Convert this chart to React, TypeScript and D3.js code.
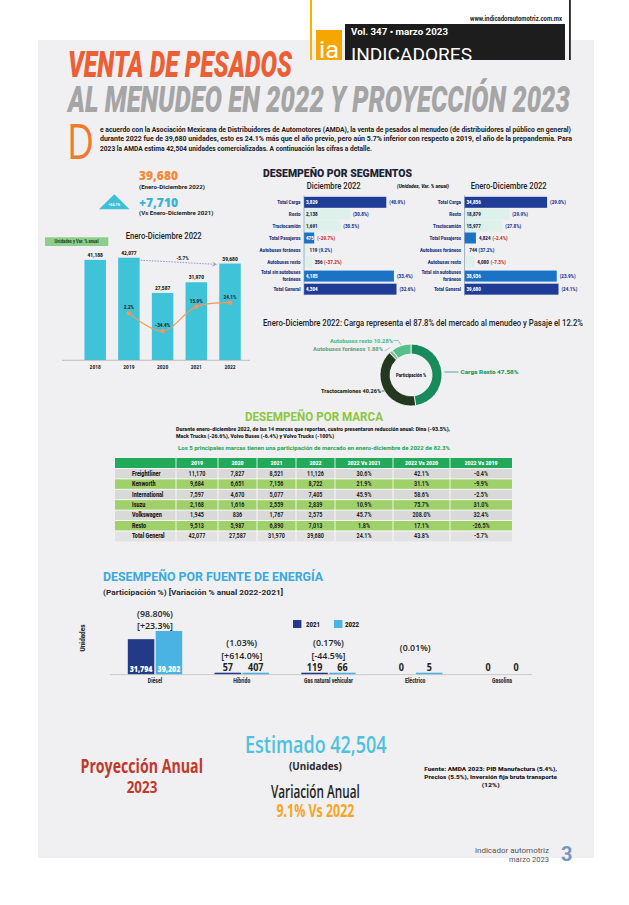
import React from 'react';
import * as d3 from 'd3';

const RB = 'Roboto, "Liberation Sans", Arial, sans-serif';
const OS = '"Open Sans", "Noto Sans", sans-serif';

// ---------- DATA ----------
const years = ['2018', '2019', '2020', '2021', '2022'];
const salesUnits = [41188, 42077, 27587, 31970, 39680];
const salesVar: (number | null)[] = [null, 2.2, -34.4, 15.9, 24.1];

const segmentLabels = ['Total Carga', 'Resto', 'Tractocamión', 'Total Pasajeros', 'Autobuses foráneos', 'Autobuses resto', 'Total sin autobuses foráneos', 'Total General'];
const segDecUnits = [3829, 2138, 1691, 475, 119, 356, 4185, 4304];
const segDecVar = [40.9, 30.8, 30.5, -29.7, 9.2, -37.2, 33.4, 32.6];
const segYearUnits = [34856, 18879, 15977, 4824, 744, 4080, 38936, 39680];
const segYearVar = [29.0, 29.9, 27.8, -2.4, 37.2, -7.3, 23.9, 24.1];

const shareLabels = ['Carga Resto', 'Tractocamiones', 'Autobuses foráneos', 'Autobuses resto'];
const shareValues = [47.58, 40.26, 1.88, 10.28];

const brandColumns = ['2019', '2020', '2021', '2022', '2022 Vs 2021', '2022 Vs 2020', '2022 Vs 2019'];
const brands = ['Freightliner', 'Kenworth', 'International', 'Isuzu', 'Volkswagen', 'Resto', 'Total General'];
const brand2019 = [11170, 9684, 7597, 2168, 1945, 9513, 42077];
const brand2020 = [7827, 6651, 4670, 1616, 836, 5987, 27587];
const brand2021 = [8521, 7156, 5077, 2559, 1767, 6890, 31970];
const brand2022 = [11126, 8722, 7405, 2839, 2575, 7013, 39680];
const brandVs2021 = [30.6, 21.9, 45.9, 10.9, 45.7, 1.8, 24.1];
const brandVs2020 = [42.1, 31.1, 58.6, 75.7, 208.0, 17.1, 43.8];
const brandVs2019 = [-0.4, -9.9, -2.5, 31.0, 32.4, -26.5, -5.7];

const energyTypes = ['Diésel', 'Híbrido', 'Gas natural vehicular', 'Eléctrico', 'Gasolina'];
const energySeries = ['2021', '2022'];
const energy2021 = [31794, 57, 119, 0, 0];
const energy2022 = [39202, 407, 66, 5, 0];
const energyShare: (number | null)[] = [98.8, 1.03, 0.17, 0.01, null];
const energyVar: (number | null)[] = [23.3, 614.0, -44.5, null, null];

// ---------- helpers ----------
const fmtN = d3.format(',');
const fmtP = (v: number) => `${v.toFixed(1)}%`;

function T(p: any) {
  const { x, y, s, c = '#222', w, fw = 700, ff = RB, a = 'start', sx, it, children, ls, rot } = p;
  const common: any = { fontSize: s, fill: c, fontWeight: fw, fontFamily: ff, textAnchor: a, fontStyle: it ? 'italic' : undefined, letterSpacing: ls };
  if (rot) return <text transform={`translate(${x},${y}) rotate(${rot})`} {...common}>{children}</text>;
  if (w) return <text x={x} y={y} textLength={w} lengthAdjust="spacingAndGlyphs" {...common}>{children}</text>;
  if (sx && sx !== 1) return <text transform={`translate(${x},${y}) scale(${sx},1)`} {...common}>{children}</text>;
  return <text x={x} y={y} {...common}>{children}</text>;
}

const segStyle: Record<string, string> = {
  'Total Carga': 'dark', 'Resto': 'light', 'Tractocamión': 'light', 'Total Pasajeros': 'mid',
  'Autobuses foráneos': 'light', 'Autobuses resto': 'light', 'Total sin autobuses foráneos': 'mid', 'Total General': 'dark',
};
const segFill: Record<string, string> = { dark: '#1f3c96', mid: '#1b73c6', light: '#ddf1ea' };
const rowSlot = [0, 1, 2, 3, 4, 5, 6.2, 7.3];

function SegChart({ x0, xMax, units, vars }: any) {
  const x = d3.scaleLinear().domain([0, d3.max(units) as number]).range([x0, xMax]);
  const rowY = (i: number) => 202.3 + rowSlot[i] * 11.9;
  const bh = 11;
  const cw = 2.1;
  const fs = 6.1, fsx = 0.74;
  return (
    <g>
      {segmentLabels.map((lab, i) => {
        const kind = segStyle[lab];
        const y = rowY(i);
        const end = x(units[i]);
        const wdt = end - x0;
        const vs = fmtN(units[i]);
        const tw = vs.length * cw;
        const inside = kind === 'light' ? wdt >= tw + 4 : wdt >= tw + 3;
        const vx = inside ? x0 + 2 : end + 3;
        const vc = inside && kind !== 'light' ? '#fff' : '#1c2550';
        const px = (inside ? end : vx + tw) + 3;
        const pc = vars[i] < 0 ? '#c8302c' : '#1f3c96';
        const lines = lab.length > 20 ? [lab.slice(0, lab.lastIndexOf(' ')), lab.slice(lab.lastIndexOf(' ') + 1)] : [lab];
        return (
          <g key={lab}>
            <rect x={x0} y={y - bh / 2} width={Math.max(wdt, 0.8)} height={bh} fill={segFill[kind]} />
            {lines.length === 1 ? (
              <T x={x0 - 3.5} y={y + 2} s={fs} sx={fsx} fw={900} a="end" c="#1d3a80">{lab}</T>
            ) : (
              <g>
                <T x={x0 - 3.5} y={y - 2} s={fs} sx={fsx} fw={900} a="end" c="#1d3a80">{lines[0]}</T>
                <T x={x0 - 3.5} y={y + 4.7} s={fs} sx={fsx} fw={900} a="end" c="#1d3a80">{lines[1]}</T>
              </g>
            )}
            <T x={vx} y={y + 2} s={fs} sx={fsx} fw={900} c={vc}>{vs}</T>
            <T x={px} y={y + 2} s={fs} sx={fsx} fw={900} c={pc}>{`(${fmtP(vars[i])})`}</T>
          </g>
        );
      })}
      <line x1={x0} x2={x0} y1={195.5} y2={295.5} stroke="#7a8aa8" strokeWidth={0.6} />
    </g>
  );
}

export default function App() {
  const W = 629, H = 905;

  // ---- annual sales chart ----
  const xYear = d3.scalePoint<string>().domain(years).range([95.2, 230]);
  const bw = 21.5;
  const yUnits = d3.scaleLinear().domain([0, 45000]).range([360, 250.6]);
  const yVar = d3.scaleLinear().domain([-40, 30]).range([333.7, 299.8]);
  const varPts = years
    .map((yr, i) => (salesVar[i] == null ? null : ([xYear(yr) as number, yVar(salesVar[i] as number)] as [number, number])))
    .filter(Boolean) as [number, number][];
  const varVals = salesVar.filter((d) => d != null) as number[];
  const varPath = d3.line().curve(d3.curveCatmullRom.alpha(0.5))(varPts) || '';
  const a0x = (xYear('2019') as number) + bw / 2 + 1;
  const a0y = yUnits(salesUnits[1]) + 2.5;
  const a1x = (xYear('2022') as number) - bw / 2 - 3;
  const a1y = yUnits(salesUnits[4]) + 0.8;
  const dropPct = ((salesUnits[4] / salesUnits[1]) - 1) * 100;

  // ---- donut ----
  const cx = 411, cy = 375, R = 31, r = 21;
  const pie = d3.pie<number>().sort(null).value((d) => d)(shareValues);
  const arc = d3.arc<d3.PieArcDatum<number>>().innerRadius(r).outerRadius(R);
  const donutColors = ['#188a5c', '#243820', '#8db89a', '#57bf8b'];
  const pointAt = (i: number, rad: number) => {
    const m = (pie[i].startAngle + pie[i].endAngle) / 2;
    return [cx + Math.sin(m) * rad, cy - Math.cos(m) * rad];
  };
  const edgeX = (dy: number, side: number) => cx + side * Math.sqrt(R * R - dy * dy);

  // ---- table ----
  const colEdges = [115, 176, 218, 257, 296, 335, 393, 450, 512];
  const headTop = 458, headH = 10.5, rowH = 10.4;
  const brandCols = [brand2019, brand2020, brand2021, brand2022, brandVs2021, brandVs2020, brandVs2019];
  const rowFill = (i: number) => (i === brands.length - 1 ? '#e2e2e2' : i % 2 === 0 ? '#d9d9d9' : '#9fd06a');

  // ---- energy ----
  const xE = d3.scalePoint<string>().domain(energyTypes).range([155, 502]);
  const yE = d3.scaleLinear().domain([0, 40000]).range([674.3, 630.1]);
  const ebw = 26.5;
  const eColors: Record<string, string> = { '2021': '#233a86', '2022': '#4ab3e3' };
  const eData = [energy2021, energy2022];

  return (
    <svg width={W} height={H} viewBox={`0 0 ${W} ${H}`} style={{ position: 'absolute', left: 0, top: 0, background: '#fff' }}>
      <defs>
        <marker id="arr" viewBox="0 0 10 10" refX="9" refY="5" markerWidth="6" markerHeight="6" orient="auto">
          <path d="M1,1 L9,5 L1,9" fill="none" stroke="#7b7bd0" strokeWidth={1.4} />
        </marker>
        <clipPath id="hdrclip"><rect x={345} y={24} width={220} height={36} /></clipPath>
      </defs>
      <rect x={0} y={0} width={W} height={H} fill="#fff" />
      <rect x={38} y={40} width={556} height={818} fill="#f0f0f2" />

      {/* header box */}
      <rect x={310} y={0} width={2} height={60} fill="#f4b400" />
      <rect x={569} y={0} width={1.8} height={60} fill="#222" />
      <T x={562} y={21} s={6.6} a="end" w={92} c="#222">www.indicadorautomotriz.com.mx</T>
      <rect x={345} y={24} width={220} height={36} fill="#1d1d1d" />
      <rect x={316} y={30} width={26} height={30} fill="#f5a600" />
      <T x={329} y={58} s={24} fw={400} a="middle" w={20} c="#fff">ia</T>
      <T x={351} y={35} s={8.5} w={97} c="#fff">Vol. 347 • marzo 2023</T>
      <g clipPath="url(#hdrclip)">
        <T x={351} y={61} s={18} fw={400} w={121} c="#fff">INDICADORES</T>
      </g>

      {/* titles */}
      <T x={68} y={77} s={37} fw={900} it w={224} c="#ec5f34">VENTA DE PESADOS</T>
      <T x={68} y={112} s={36} fw={900} it w={502} c="#a5a5a5">AL MENUDEO EN 2022 Y PROYECCIÓN 2023</T>

      {/* intro paragraph */}
      <T x={67} y={159} s={50} fw={400} w={27} c="#ee7a2e" ff={OS}>D</T>
      <T x={100} y={131.5} s={7} w={471} c="#222">e acuerdo con la Asociación Mexicana de Distribuidores de Automotores (AMDA), la venta de pesados al menudeo (de distribuidores al público en general)</T>
      <T x={100} y={141} s={7} w={472} c="#222">durante 2022 fue de 39,680 unidades, esto es 24.1% más que el año previo, pero aún 5.7% inferior con respecto a 2019, el año de la prepandemia. Para</T>
      <T x={100} y={150.5} s={7} w={272} c="#222">2023 la AMDA estima 42,504 unidades comercializadas. A continuación las cifras a detalle.</T>

      {/* KPI block */}
      <T x={139} y={180} s={11.5} w={39} c="#f08a3c" ff={OS} fw={800}>{fmtN(salesUnits[4])}</T>
      <T x={139} y={189.3} s={6} w={66} c="#222">(Enero-Diciembre 2022)</T>
      <path d={`M114.3,194.3 L129.5,209.3 L99,209.3 Z`} fill="#3ec0d6" />
      <T x={114.3} y={206} s={3.6} a="middle" c="#fff">{`+${salesVar[4]}%`}</T>
      <T x={139} y={206.7} s={11.5} w={39} c="#3ab4d2" ff={OS} fw={800}>{`+${fmtN(salesUnits[4] - salesUnits[3])}`}</T>
      <T x={139} y={215} s={6} w={74.5} c="#222">(Vs Enero-Diciembre 2021)</T>

      {/* annual chart */}
      <rect x={45} y={237.3} width={63.3} height={8.7} fill="#8bcf8b" />
      <T x={76.6} y={243.4} s={4.9} a="middle" c="#1b3b1b" sx={0.85}>Unidades y Var. % anual</T>
      <T x={125.7} y={239} s={8.8} fw={500} w={76} c="#1d1d1d">Enero-Diciembre 2022</T>
      {years.map((yr, i) => {
        const xc = xYear(yr) as number;
        const top = yUnits(salesUnits[i]);
        return (
          <g key={yr}>
            <rect x={xc - bw / 2} y={top} width={bw} height={yUnits(0) - top} fill="#3ec3d9" />
            <T x={xc} y={top - 2.8} s={5.4} fw={900} a="middle" c="#222" sx={0.9}>{fmtN(salesUnits[i])}</T>
            <T x={xc} y={368.5} s={5.4} fw={900} a="middle" c="#333" sx={0.9}>{yr}</T>
          </g>
        );
      })}
      <line x1={62} x2={250} y1={360.3} y2={360.3} stroke="#9a9a9a" strokeWidth={0.6} />
      <path d={varPath} fill="none" stroke="#f29a58" strokeWidth={1.1} />
      {varPts.map((p, k) => (
        <g key={k}>
          <circle cx={p[0]} cy={p[1]} r={2.3} fill="#ef985a" />
          <T x={p[0]} y={p[1] - 3.8} s={5.2} fw={900} a="middle" c="#2a2a2a" sx={0.9}>{`${varVals[k]}%`}</T>
        </g>
      ))}
      <line x1={a0x} y1={a0y} x2={a1x} y2={a1y} stroke="#7b7bd0" strokeWidth={0.8} strokeDasharray="1.6,1.2" markerEnd="url(#arr)" />
      <T x={(a0x + a1x) / 2 + 4} y={259.5} s={5.2} fw={900} a="middle" c="#2a2a2a" sx={0.9}>{`${dropPct.toFixed(1)}%`}</T>

      {/* segments */}
      <T x={263} y={177} s={10.5} fw={900} w={149} c="#1b2233">DESEMPEÑO POR SEGMENTOS</T>
      <T x={306.7} y={189} s={8.5} fw={500} w={54} c="#1d1d1d">Diciembre 2022</T>
      <T x={397} y={188} s={5.4} fw={900} it w={52} c="#1d1d1d">(Unidades, Var. % anual)</T>
      <T x={470.7} y={189} s={8.5} fw={500} w={76} c="#1d1d1d">Enero-Diciembre 2022</T>
      <SegChart x0={304} xMax={396.5} units={segDecUnits} vars={segDecVar} />
      <SegChart x0={464.5} xMax={558.5} units={segYearUnits} vars={segYearVar} />

      {/* donut */}
      <T x={263} y={326} s={8.5} fw={500} w={320} c="#1d1d1d">Enero-Diciembre 2022: Carga representa el 87.8% del mercado al menudeo y Pasaje el 12.2%</T>
      <g transform={`translate(${cx},${cy})`}>
        {pie.map((p, i) => (
          <path key={i} d={arc(p) || ''} fill={donutColors[i]} stroke="#fff" strokeWidth={0.8} />
        ))}
      </g>
      <T x={cx} y={cy + 1.8} s={5.4} fw={900} a="middle" c="#1a1a1a" sx={0.8}>Participación %</T>
      {(() => {
        const yC = 372;
        const pT = 391;
        const pF = pointAt(2, R + 1);
        const pR = pointAt(3, R + 1);
        return (
          <g strokeWidth={0.7} fill="none">
            <line x1={edgeX(yC - cy, 1) + 2.5} x2={458.5} y1={yC} y2={yC} stroke="#188a5c" />
            <T x={460.5} y={yC + 2.2} s={6.2} fw={900} w={58} c="#1b9a62">{`${shareLabels[0]} ${shareValues[0].toFixed(2)}%`}</T>
            <line x1={381.5} x2={edgeX(pT - cy, -1)} y1={pT} y2={pT} stroke="#243820" />
            <T x={381} y={pT + 2.2} s={6.2} fw={900} w={60} a="end" c="#243820">{`${shareLabels[1]} ${shareValues[1].toFixed(2)}%`}</T>
            <path d={`M384.5,351 L${pF[0]},${pF[1] - 3}`} stroke="#8db89a" />
            <T x={383} y={351} s={6.2} fw={900} w={70} a="end" c="#6ea784">{`${shareLabels[2]} ${shareValues[2].toFixed(2)}%`}</T>
            <path d={`M393.5,340.5 L398,340.5 L${pR[0]},${pR[1]}`} stroke="#57bf8b" />
            <T x={393} y={342.5} s={6.2} fw={900} w={63} a="end" c="#57bf8b">{`${shareLabels[3]} ${shareValues[3].toFixed(2)}%`}</T>
          </g>
        );
      })()}

      {/* brand table */}
      <T x={245} y={421} s={13} w={138} c="#8dc63f">DESEMPEÑO POR MARCA</T>
      <T x={176} y={431} s={5.8} fw={900} w={274} c="#222">Durante enero-diciembre 2022, de las 14 marcas que reportan, cuatro presentaron reducción anual: Dina (-93.5%),</T>
      <T x={176} y={438} s={5.8} fw={900} w={158} c="#222">Mack Trucks (-26.6%), Volvo Buses (-6.4%) y Volvo Trucks (-100%)</T>
      <T x={178} y={450} s={6} w={272} c="#22a24e">Los 5 principales marcas tienen una participación de mercado en enero-diciembre de 2022 de 82.3%</T>
      <rect x={colEdges[0]} y={headTop} width={colEdges[8] - colEdges[0]} height={headH} fill="#22a95a" />
      {brandColumns.map((h, j) => (
        <T key={h} x={(colEdges[j + 1] + colEdges[j + 2]) / 2} y={headTop + 7.3} s={6.2} fw={900} sx={0.85} a="middle" c="#fff">{h}</T>
      ))}
      {brands.map((b, i) => {
        const y0 = headTop + headH + i * rowH;
        return (
          <g key={b}>
            <rect x={colEdges[0]} y={y0} width={colEdges[8] - colEdges[0]} height={rowH} fill={rowFill(i)} />
            <T x={132} y={y0 + 7.2} s={6.4} fw={900} sx={0.85} c="#1e1e1e">{b}</T>
            {brandCols.map((col, j) => (
              <T key={j} x={(colEdges[j + 1] + colEdges[j + 2]) / 2} y={y0 + 7.2} s={6.4} fw={700} sx={0.85} a="middle" c="#1e1e1e">
                {j < 4 ? fmtN(col[i]) : fmtP(col[i])}
              </T>
            ))}
          </g>
        );
      })}
      {brands.map((b, i) => (
        <line key={b} x1={colEdges[0]} x2={colEdges[8]} y1={headTop + headH + i * rowH} y2={headTop + headH + i * rowH} stroke="#fff" strokeWidth={0.8} />
      ))}
      {colEdges.slice(1, 8).map((x) => (
        <line key={x} x1={x} x2={x} y1={headTop} y2={headTop + headH + brands.length * rowH} stroke="#fff" strokeWidth={0.8} />
      ))}

      {/* energy */}
      <T x={103} y={581} s={13} w={220} c="#3aa9dc">DESEMPEÑO POR FUENTE DE ENERGÍA</T>
      <T x={103} y={595} s={7.6} w={180} c="#2a2a2a">(Participación %) [Variación % anual 2022-2021]</T>
      <T x={85} y={638} s={6.4} fw={900} a="middle" rot={-90} c="#333">Unidades</T>
      {energySeries.map((s, k) => (
        <g key={s}>
          <rect x={293 + k * 41} y={620} width={8.4} height={8} fill={eColors[s]} />
          <T x={306 + k * 39} y={627} s={6.8} fw={900} sx={0.9} c="#222">{s}</T>
        </g>
      ))}
      {energyTypes.map((t, i) => {
        const c = xE(t) as number;
        const tops = eData.map((d) => yE(d[i]));
        const top = Math.min(...tops);
        const big = yE(0) - top > 15;
        const pctY = big ? top - 13.5 : energyVar[i] != null ? 645.5 : 651;
        const varY = big ? top - 2.3 : 658.5;
        return (
          <g key={t}>
            {eData.map((d, k) => {
              const bx = k === 0 ? c - ebw - 0.7 : c + 0.7;
              const h = d[i] > 0 ? Math.max(yE(0) - yE(d[i]), 1.6) : 0;
              return (
                <g key={k}>
                  {h > 0 && <rect x={bx} y={yE(0) - h} width={ebw} height={h} fill={eColors[energySeries[k]]} />}
                  <T x={bx + ebw / 2} y={big ? 671.5 : 671} s={big ? 8.4 : 10} ff={OS} fw={big ? 800 : 700} sx={big ? 0.84 : 0.9} a="middle" c={big ? '#fff' : '#222'}>
                    {fmtN(d[i])}
                  </T>
                </g>
              );
            })}
            {energyShare[i] != null && (
              <T x={c} y={pctY} s={9.6} ff={OS} fw={600} sx={0.92} a="middle" c="#222">{`(${(energyShare[i] as number).toFixed(2)}%)`}</T>
            )}
            {energyVar[i] != null && (
              <T x={c} y={varY} s={9.6} ff={OS} fw={600} sx={0.92} a="middle" c="#222">{`[${(energyVar[i] as number) > 0 ? '+' : ''}${(energyVar[i] as number).toFixed(1)}%]`}</T>
            )}
            <T x={c} y={683} s={6.4} fw={900} sx={0.8} a="middle" c="#333">{t}</T>
          </g>
        );
      })}
      <line x1={110} x2={532} y1={674.6} y2={674.6} stroke="#b0b0b0" strokeWidth={0.6} />

      {/* projection */}
      <T x={80.5} y={773} s={19} fw={700} w={122.5} ff={OS} c="#c0392b">Proyección Anual</T>
      <T x={142} y={793} s={16} fw={700} w={30.6} ff={OS} a="middle" c="#c0392b">2023</T>
      <T x={245} y={753} s={23} fw={600} w={141.6} ff={OS} c="#4ec1de">Estimado 42,504</T>
      <T x={315.4} y={769.5} s={10.5} fw={700} w={52.8} ff={OS} a="middle" c="#2a2a2a">(Unidades)</T>
      <T x={271} y={798} s={18} fw={600} w={88.7} ff={OS} c="#1f1f1f">Variación Anual</T>
      <T x={276.4} y={816.5} s={17} fw={700} w={78} ff={OS} c="#f5a623">9.1% Vs 2022</T>
      <T x={490.7} y={770.5} s={6} fw={900} w={132.8} a="middle" c="#222">Fuente: AMDA 2023: PIB Manufactura (5.4%),</T>
      <T x={490.7} y={778.5} s={6} fw={900} w={132.8} a="middle" c="#222">Precios (5.5%), Inversión fija bruta transporte</T>
      <T x={490.7} y={787} s={6} fw={900} w={18} a="middle" c="#222">(12%)</T>

      {/* footer */}
      <T x={549} y={853} s={8} fw={400} w={74} a="end" c="#555">indicador automotriz</T>
      <T x={549} y={861.5} s={8} fw={400} w={40} a="end" c="#555">marzo 2023</T>
      <T x={561} y={861} s={20} fw={700} c="#7796bd">3</T>
    </svg>
  );
}
